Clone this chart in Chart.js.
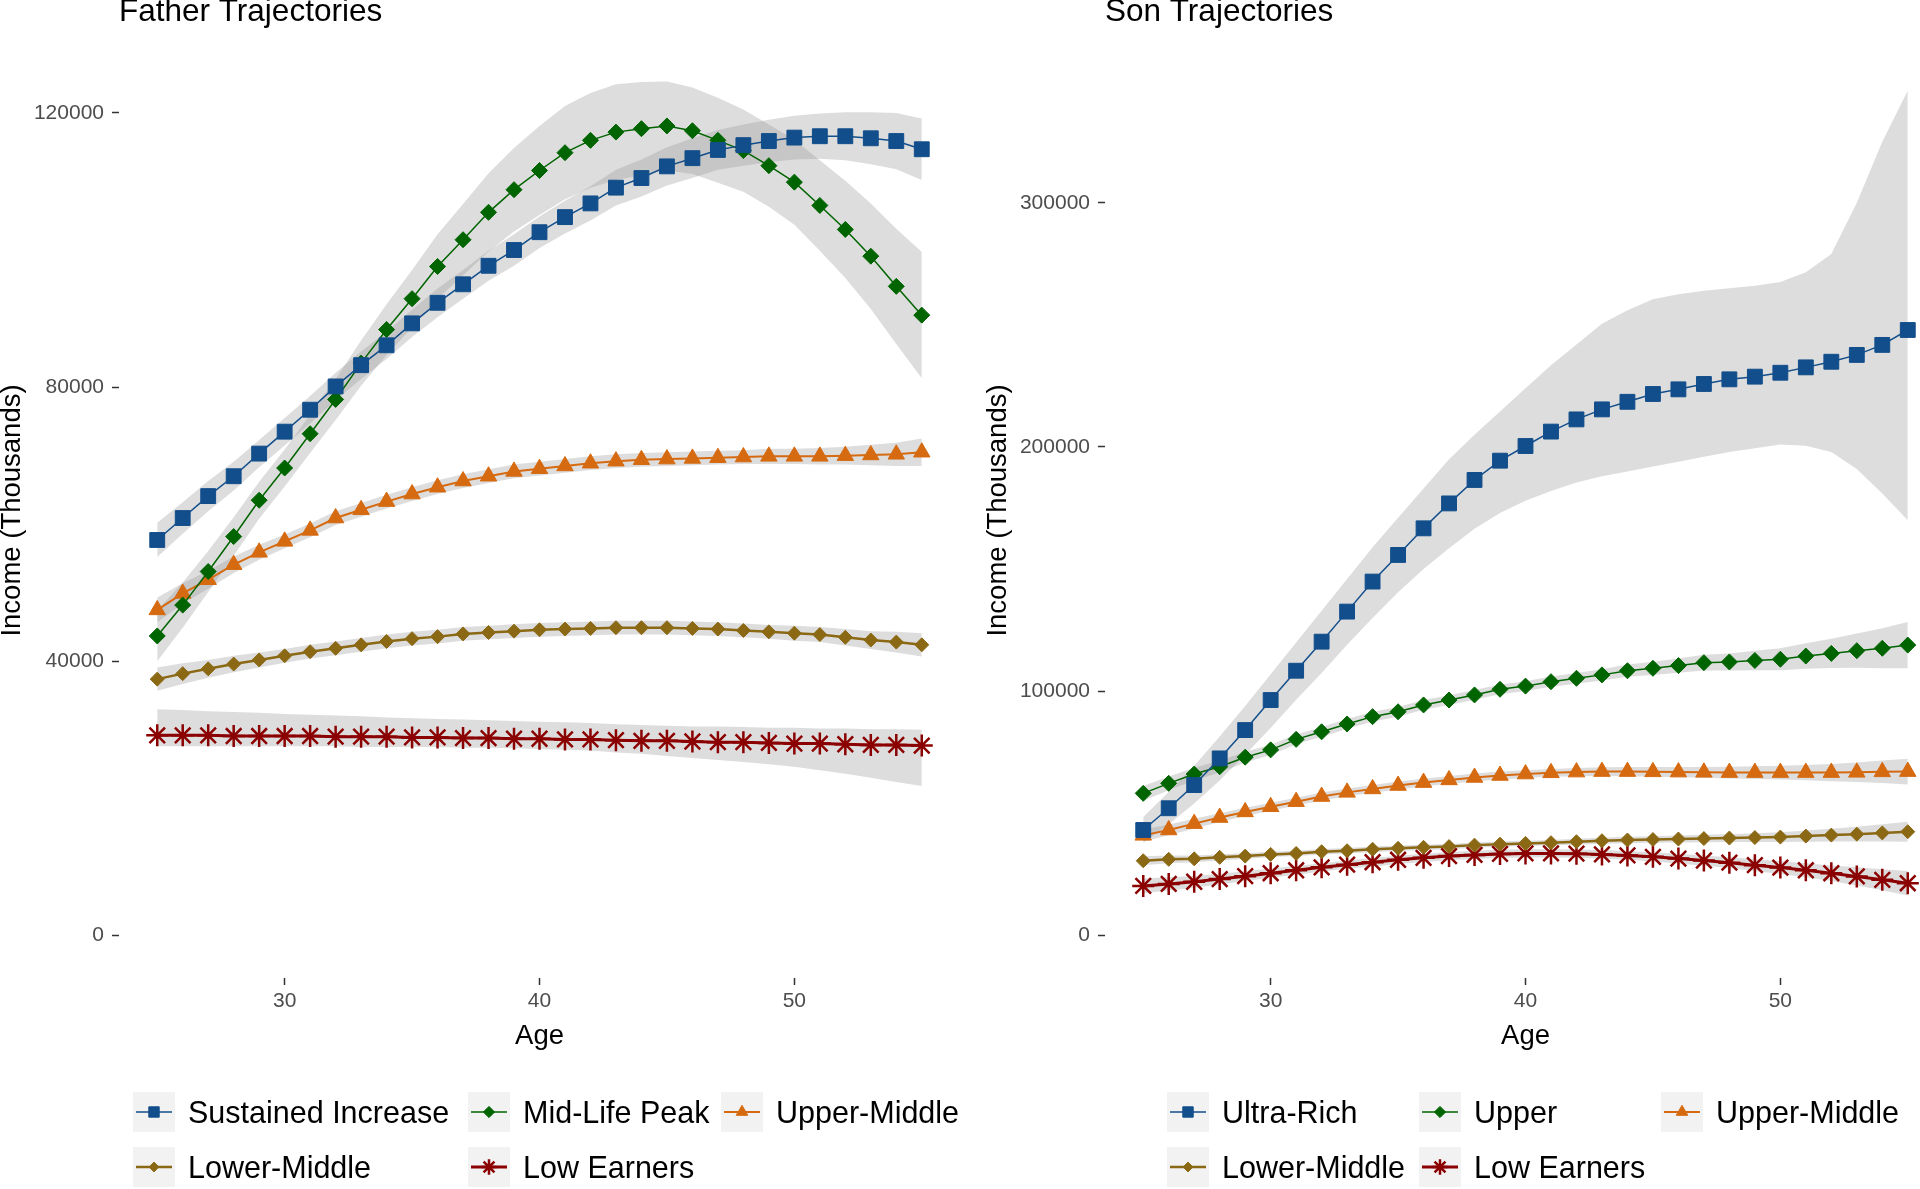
<!DOCTYPE html>
<html>
<head>
<meta charset="utf-8">
<title>Father and Son Trajectories</title>
<script src="https://cdn.jsdelivr.net/npm/chart.js@4.4.1/dist/chart.umd.min.js"></script>
<style>
  html, body { margin: 0; padding: 0; background: #fff; overflow: hidden; width: 1920px; height: 1189px; }
  .panel { position: absolute; top: 0; width: 960px; height: 1189px; }
  .legend-item { position: absolute; display: flex; align-items: center; height: 40px;
    font-family: "Liberation Sans", Arial, sans-serif; font-size: 30.5px; color: #000; white-space: nowrap; }
  .legend-item canvas { margin-right: 13px; }
</style>
</head>
<body>
<div class="panel" id="fatherPanel" style="left:0px"><canvas id="chartFather" width="960" height="1189"></canvas></div>
<div class="panel" id="sonPanel" style="left:986px"><canvas id="chartSon" width="960" height="1189"></canvas></div>
<script>
/* ages and ticks */
const ages = [25, 26, 27, 28, 29, 30, 31, 32, 33, 34, 35, 36, 37, 38, 39, 40, 41, 42, 43, 44, 45, 46, 47, 48, 49, 50, 51, 52, 53, 54, 55];
const xTicks = [30, 40, 50];
const fatherYTicks = [0, 40000, 80000, 120000];
const sonYTicks = [0, 100000, 200000, 300000];

/* Father trajectories */
const fatherLabels = ['Sustained Increase', 'Mid-Life Peak', 'Upper-Middle', 'Lower-Middle', 'Low Earners'];

const fSustained = [57700, 60900, 64100, 67000, 70300, 73500, 76700, 80100, 83200, 86100, 89300, 92300, 95000, 97700, 100000, 102600, 104800, 106800, 109100, 110500, 112200, 113400, 114600, 115300, 115900, 116400, 116600, 116600, 116300, 115900, 114700];
const fSustainedLo = [55200, 58600, 61900, 64900, 68300, 71500, 74700, 78100, 81200, 84100, 87300, 90200, 92900, 95500, 97700, 100300, 102400, 104300, 106500, 107800, 109400, 110500, 111700, 112300, 112800, 113200, 113300, 113100, 112500, 111800, 110200];
const fSustainedHi = [60200, 63200, 66300, 69100, 72300, 75500, 78700, 82100, 85200, 88100, 91300, 94400, 97100, 99900, 102300, 104900, 107200, 109300, 111700, 113200, 115000, 116300, 117500, 118300, 119000, 119600, 119900, 120100, 120100, 120000, 119200];

const fMidLife = [43700, 48200, 53100, 58200, 63500, 68200, 73200, 78200, 83500, 88400, 92900, 97600, 101500, 105500, 108800, 111600, 114200, 116000, 117200, 117700, 118100, 117400, 116000, 114500, 112300, 109900, 106500, 103000, 99100, 94700, 90500];
const fMidLifeLo = [40000, 44900, 50100, 55400, 60800, 65500, 70400, 75200, 80200, 84700, 88700, 92900, 96300, 99800, 102700, 105100, 107400, 109100, 110200, 110900, 111600, 111100, 109800, 108500, 106300, 103700, 99900, 95900, 91400, 86300, 81300];
const fMidLifeHi = [47400, 51500, 56100, 61000, 66200, 70900, 76000, 81200, 86800, 92100, 97100, 102300, 106700, 111200, 114900, 118100, 121000, 122900, 124200, 124500, 124600, 123700, 122200, 120500, 118300, 116100, 113100, 110100, 106800, 103100, 99700];

const fUpperMiddle = [47500, 49900, 51900, 54100, 55900, 57500, 59100, 60900, 62100, 63300, 64400, 65400, 66300, 67000, 67700, 68100, 68500, 68900, 69200, 69400, 69500, 69600, 69700, 69800, 69900, 69900, 69900, 70000, 70100, 70200, 70500];
const fUpperMiddleLo = [45700, 48400, 50600, 52900, 54800, 56500, 58100, 59900, 61100, 62300, 63400, 64400, 65300, 66000, 66700, 67100, 67500, 67900, 68200, 68400, 68500, 68600, 68700, 68800, 68800, 68800, 68700, 68700, 68600, 68500, 68500];
const fUpperMiddleHi = [49300, 51400, 53200, 55300, 57000, 58500, 60100, 61900, 63100, 64300, 65400, 66400, 67300, 68000, 68700, 69100, 69500, 69900, 70200, 70400, 70500, 70600, 70700, 70800, 71000, 71000, 71100, 71300, 71600, 71900, 72500];

const fLowerMiddle = [37400, 38200, 38900, 39600, 40200, 40800, 41400, 41900, 42400, 42900, 43300, 43600, 44000, 44200, 44400, 44600, 44700, 44800, 44900, 44900, 44900, 44800, 44700, 44500, 44300, 44100, 43900, 43500, 43100, 42800, 42400];
const fLowerMiddleLo = [35700, 36700, 37600, 38400, 39100, 39800, 40400, 40900, 41400, 41900, 42300, 42600, 43000, 43200, 43400, 43600, 43700, 43800, 43900, 43900, 43900, 43800, 43700, 43500, 43300, 43000, 42800, 42300, 41800, 41300, 40700];
const fLowerMiddleHi = [39100, 39700, 40200, 40800, 41300, 41800, 42400, 42900, 43400, 43900, 44300, 44600, 45000, 45200, 45400, 45600, 45700, 45800, 45900, 45900, 45900, 45800, 45700, 45500, 45300, 45200, 45000, 44700, 44400, 44300, 44100];

const fLowEarners = [29200, 29200, 29200, 29100, 29100, 29100, 29100, 29000, 29000, 29000, 28900, 28900, 28800, 28800, 28700, 28700, 28600, 28600, 28500, 28400, 28400, 28300, 28200, 28200, 28100, 28000, 28000, 27900, 27800, 27800, 27700];
const fLowEarnersLo = [27600, 27600, 27600, 27600, 27600, 27600, 27600, 27600, 27500, 27500, 27500, 27500, 27400, 27400, 27300, 27200, 27100, 27000, 26700, 26500, 26200, 25900, 25600, 25300, 25000, 24600, 24100, 23600, 23000, 22400, 21800];
const fLowEarnersHi = [33000, 32900, 32700, 32600, 32500, 32300, 32200, 32100, 32000, 31800, 31700, 31600, 31500, 31400, 31300, 31200, 31100, 31000, 30800, 30700, 30600, 30500, 30500, 30400, 30300, 30300, 30200, 30200, 30100, 30100, 30000];

/* Son trajectories */
const sonLabels = ['Ultra-Rich', 'Upper', 'Upper-Middle', 'Lower-Middle', 'Low Earners'];

const sUltraRich = [43200, 52100, 61600, 72500, 84100, 96400, 108400, 120300, 132600, 144900, 155800, 166700, 176900, 186500, 194400, 200400, 206300, 211300, 215400, 218500, 221700, 223600, 225800, 227700, 228800, 230400, 232600, 234900, 237700, 241800, 247900];
const sUltraRichLo = [38000, 45500, 54000, 63500, 74000, 85000, 96500, 107500, 119000, 130000, 140500, 150000, 158500, 166500, 173000, 178000, 182000, 185500, 188000, 190000, 192000, 194000, 196000, 198000, 199500, 201000, 200500, 198000, 191000, 181000, 170000];
const sUltraRichHi = [48500, 58700, 69500, 81500, 94000, 107000, 120000, 133000, 146000, 159000, 171000, 183000, 195000, 205000, 214500, 224000, 233500, 242000, 250500, 256000, 260500, 262500, 264000, 265000, 266000, 267500, 271500, 279000, 300000, 325000, 346000];

const sUpper = [58200, 62300, 66100, 69100, 73000, 76000, 80300, 83400, 86600, 89600, 91600, 94400, 96400, 98500, 100800, 102100, 103900, 105300, 106700, 108400, 109400, 110500, 111700, 112000, 112600, 113100, 114400, 115500, 116600, 117600, 118900];
const sUpperLo = [55200, 59500, 63500, 66700, 70800, 73900, 78300, 81400, 84600, 87600, 89600, 92400, 94400, 96500, 98800, 100100, 101800, 103100, 104400, 105900, 106700, 107600, 108500, 108500, 108600, 108600, 109200, 109500, 109600, 109400, 109400];
const sUpperHi = [61200, 65100, 68700, 71500, 75200, 78100, 82300, 85400, 88600, 91600, 93600, 96400, 98400, 100500, 102800, 104100, 106000, 107500, 109000, 110900, 112100, 113400, 114900, 115500, 116600, 117600, 119600, 121500, 123600, 125800, 128400];

const sUpperMiddle = [41000, 43200, 45800, 48300, 50600, 52700, 54800, 56900, 58600, 60000, 61400, 62600, 63700, 64700, 65500, 66100, 66600, 66900, 67100, 67100, 67000, 66900, 66800, 66700, 66700, 66700, 66700, 66700, 66800, 67000, 67100];
const sUpperMiddleLo = [38500, 41000, 43800, 46500, 48900, 51100, 53200, 55300, 57000, 58400, 59800, 61000, 62100, 63100, 63900, 64500, 65000, 65200, 65300, 65200, 65000, 64800, 64600, 64300, 64100, 63900, 63600, 63200, 62800, 62400, 61800];
const sUpperMiddleHi = [43500, 45400, 47800, 50100, 52300, 54300, 56400, 58500, 60200, 61600, 63000, 64200, 65300, 66300, 67100, 67700, 68200, 68600, 68900, 69000, 69000, 69000, 69000, 69100, 69300, 69500, 69800, 70200, 70800, 71600, 72400];

const sLowerMiddle = [30600, 31200, 31400, 32000, 32500, 33200, 33600, 34300, 34700, 35300, 35700, 36100, 36400, 37000, 37400, 37700, 38000, 38400, 38800, 39100, 39300, 39500, 39700, 39900, 40100, 40300, 40700, 41100, 41500, 42000, 42500];
const sLowerMiddleLo = [28800, 29600, 30000, 30700, 31300, 32100, 32500, 33200, 33600, 34200, 34600, 35000, 35300, 35900, 36300, 36600, 36900, 37200, 37600, 37800, 38000, 38100, 38200, 38300, 38300, 38300, 38400, 38500, 38500, 38500, 38400];
const sLowerMiddleHi = [32400, 32800, 32800, 33300, 33700, 34300, 34700, 35400, 35800, 36400, 36800, 37200, 37500, 38100, 38500, 38800, 39100, 39600, 40000, 40400, 40600, 40900, 41200, 41500, 41900, 42300, 43000, 43700, 44500, 45500, 46600];

const sLowEarners = [20300, 21100, 22000, 23100, 24300, 25500, 26700, 27900, 29000, 30000, 31000, 31800, 32500, 33000, 33400, 33600, 33600, 33500, 33200, 32800, 32200, 31500, 30700, 29800, 28800, 27800, 26700, 25500, 24200, 22800, 21400];
const sLowEarnersLo = [17300, 18400, 19600, 20900, 22300, 23600, 24900, 26200, 27300, 28300, 29300, 30100, 30800, 31300, 31700, 31900, 31900, 31800, 31400, 31000, 30300, 29500, 28600, 27600, 26400, 25200, 23800, 22300, 20500, 18500, 16400];
const sLowEarnersHi = [23300, 23800, 24400, 25300, 26300, 27400, 28500, 29600, 30700, 31700, 32700, 33500, 34200, 34700, 35100, 35300, 35300, 35200, 35000, 34600, 34100, 33500, 32800, 32000, 31200, 30400, 29600, 28700, 27900, 27100, 26400];

/* styles, one per group position */
const FONT = '"Liberation Sans", Arial, sans-serif';
const bandColor = 'rgba(153, 153, 153, 0.33)';
const seriesStyles = [
  { color: '#124E8B', lineWidth: 1.5, pointStyle: 'rect', pointRadius: 10.5, pointBorderWidth: 1 },
  { color: '#006400', lineWidth: 1.5, pointStyle: 'rectRot', pointRadius: 8, pointBorderWidth: 1 },
  { color: '#D66A10', lineWidth: 2, pointStyle: 'triangle', pointRadius: 9.5, pointBorderWidth: 1 },
  { color: '#8B6914', lineWidth: 2.5, pointStyle: 'rectRot', pointRadius: 7, pointBorderWidth: 1 },
  { color: '#8B0000', lineWidth: 3, pointStyle: 'star', pointRadius: 11, pointBorderWidth: 2.5 }
];

function toPoints(values) {
  return ages.map((age, i) => ({ x: age, y: values[i] }));
}

function getDatasets(labels, means, los, his) {
  const lines = labels.map((label, i) => {
    const s = seriesStyles[i];
    return {
      label: label,
      data: toPoints(means[i]),
      borderColor: s.color,
      backgroundColor: s.color,
      borderWidth: s.lineWidth,
      pointStyle: s.pointStyle,
      pointRadius: s.pointRadius,
      pointBorderWidth: s.pointBorderWidth,
      pointBackgroundColor: s.color,
      pointBorderColor: s.color,
      fill: false,
      tension: 0
    };
  });
  const bands = [];
  labels.forEach((label, i) => {
    bands.push({ label: label + ' lo', data: toPoints(los[i]), borderWidth: 0, pointRadius: 0, fill: false });
    bands.push({ label: label + ' hi', data: toPoints(his[i]), borderWidth: 0, pointRadius: 0, fill: '-1', backgroundColor: bandColor });
  });
  return lines.concat(bands);
}

function getChart(id, title, labels, means, los, his, yTicks, yMin, yMax) {
  const ctx = document.getElementById(id).getContext('2d');
  return new Chart(ctx, {
    type: 'line',
    data: { datasets: getDatasets(labels, means, los, his) },
    options: {
      responsive: false,
      animation: false,
      devicePixelRatio: 1,
      layout: { autoPadding: false, padding: { left: 0, right: 0, top: 0, bottom: 138.5 } },
      plugins: {
        legend: { display: false },
        tooltip: { enabled: false },
        filler: { drawTime: 'beforeDatasetsDraw' },
        title: {
          display: true, text: title, align: 'start', fullSize: false, color: '#000',
          font: { family: FONT, size: 31.5, weight: 'normal', lineHeight: 0.8 },
          padding: { top: 0, bottom: 17.8 }
        }
      },
      scales: {
        x: {
          type: 'linear', min: 23.5, max: 56.5,
          afterBuildTicks: (scale) => { scale.ticks = xTicks.map(v => ({ value: v })); },
          afterFit: (scale) => { scale.height = 72.5; },
          grid: { display: true, drawOnChartArea: false, drawTicks: true, tickLength: 7, tickColor: '#333333', tickWidth: 1.5 },
          border: { display: false },
          ticks: { autoSkip: false, maxRotation: 0, padding: 4, color: '#4D4D4D', font: { family: FONT, size: 21 }, callback: (v) => String(v) },
          title: { display: true, text: 'Age', color: '#000', padding: 0, font: { family: FONT, size: 27.5, lineHeight: 1 } }
        },
        y: {
          type: 'linear', min: yMin, max: yMax,
          afterBuildTicks: (scale) => { scale.ticks = yTicks.map(v => ({ value: v })); },
          afterFit: (scale) => { scale.width = 119; },
          grid: { display: true, drawOnChartArea: false, drawTicks: true, tickLength: 7, tickColor: '#333333', tickWidth: 1.5 },
          border: { display: false },
          ticks: { autoSkip: false, padding: 8, color: '#4D4D4D', font: { family: FONT, size: 21 }, callback: (v) => String(v) },
          title: { display: true, text: 'Income (Thousands)', color: '#000', padding: 0, font: { family: FONT, size: 27.5, lineHeight: 0.88 } }
        }
      }
    }
  });
}

function drawKey(canvas, s) {
  const ctx = canvas.getContext('2d');
  ctx.fillStyle = '#F2F2F2';
  ctx.fillRect(0, 0, 42, 40);
  ctx.strokeStyle = s.color;
  ctx.lineWidth = s.lineWidth;
  ctx.beginPath();
  ctx.moveTo(3, 20);
  ctx.lineTo(39, 20);
  ctx.stroke();
  ctx.fillStyle = s.color;
  ctx.lineWidth = s.pointBorderWidth;
  Chart.helpers.drawPoint(ctx, { pointStyle: s.pointStyle, rotation: 0, radius: s.pointRadius * 0.7, borderWidth: s.pointBorderWidth }, 21, 20);
}

function addLegend(panelId, labels, positions) {
  const panel = document.getElementById(panelId);
  labels.forEach((label, i) => {
    const item = document.createElement('div');
    item.className = 'legend-item';
    item.style.left = positions[i][0] + 'px';
    item.style.top = positions[i][1] + 'px';
    const key = document.createElement('canvas');
    key.width = 42;
    key.height = 40;
    drawKey(key, seriesStyles[i]);
    const text = document.createElement('span');
    text.textContent = label;
    item.appendChild(key);
    item.appendChild(text);
    panel.appendChild(item);
  });
}

/* Father panel */
chartFather = getChart('chartFather', 'Father Trajectories', fatherLabels,
  [fSustained, fMidLife, fUpperMiddle, fLowerMiddle, fLowEarners],
  [fSustainedLo, fMidLifeLo, fUpperMiddleLo, fLowerMiddleLo, fLowEarnersLo],
  [fSustainedHi, fMidLifeHi, fUpperMiddleHi, fLowerMiddleHi, fLowEarnersHi],
  fatherYTicks, -6200, 130200);
addLegend('fatherPanel', fatherLabels, [[133, 1092], [468, 1092], [721, 1092], [133, 1147], [468, 1147]]);

/* Son panel */
chartSon = getChart('chartSon', 'Son Trajectories', sonLabels,
  [sUltraRich, sUpper, sUpperMiddle, sLowerMiddle, sLowEarners],
  [sUltraRichLo, sUpperLo, sUpperMiddleLo, sLowerMiddleLo, sLowEarnersLo],
  [sUltraRichHi, sUpperHi, sUpperMiddleHi, sLowerMiddleHi, sLowEarnersHi],
  sonYTicks, -17400, 365400);
addLegend('sonPanel', sonLabels, [[181, 1092], [433, 1092], [675, 1092], [181, 1147], [433, 1147]]);
</script>
</body>
</html>
